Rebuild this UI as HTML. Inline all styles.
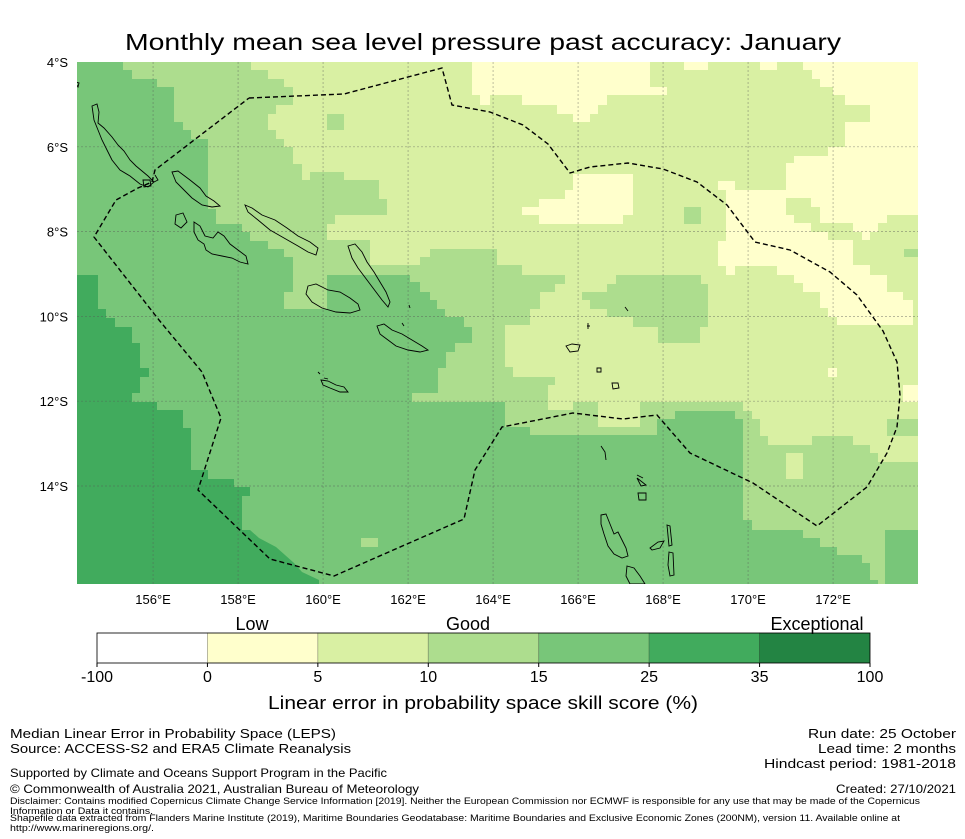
<!DOCTYPE html>
<html><head><meta charset="utf-8">
<style>
html,body{margin:0;padding:0;background:#fff;overflow:hidden;}
svg{display:block;font-family:"Liberation Sans","DejaVu Sans",sans-serif;}
</style></head>
<body>
<svg id="fig" width="965" height="839" viewBox="0 0 965 839" xmlns="http://www.w3.org/2000/svg">
<text x="483" y="50" font-size="23" text-anchor="middle" textLength="716" lengthAdjust="spacingAndGlyphs">Monthly mean sea level pressure past accuracy: January</text>

<defs><clipPath id="mapclip"><rect x="77" y="62" width="841" height="522"/></clipPath></defs>
<g clip-path="url(#mapclip)">
  <rect x="77" y="62" width="841" height="522" fill="#78c679"/>
  <polygon fill="#41ab5d" points="77,275 98,275 98,309 106,309 106,318 115,318 115,327 132,327 132,343 140,343 140,368 149,368 149,377 140,377 140,393 132,393 132,402 149,402 157,402 157,410 183,410 183,428 191,428 191,436 191,470 208,470 208,479 234,479 234,487 250,487 250,496 242,496 242,530 250,530 259,538 276,547 285,555 294,563 302,572 319,580 319,584 77,584"/>
  <polygon fill="#addd8e" points="123,62 918,62 918,530 885,530 885,584 878,584 878,580 870,580 870,563 862,563 862,555 837,555 837,547 820,547 820,538 803,538 803,530 752,530 752,520 743,520 743,419 735,419 735,411 675,411 675,419 657,419 657,435 530,435 530,427 505,427 505,402 412,402 412,393 438,393 438,368 446,368 446,352 455,352 455,343 472,343 472,327 464,327 464,317 445,317 445,309 437,309 437,300 430,300 430,292 420,292 420,282 410,282 410,275 327,275 327,309 284,309 284,292 293,292 293,257 284,257 284,249 268,249 268,241 250,241 250,232 242,232 242,224 216,224 216,209 208,209 208,139 191,139 191,130 183,130 183,122 174,122 174,87 157,87 157,79 132,79 132,70 123,70"/>
  <polygon fill="#d9f0a3" points="251,62 918,62 918,462 878,462 878,453 870,453 870,445 853,445 853,436 812,436 812,445 768,445 768,436 760,436 760,419 752,419 752,411 743,411 743,402 548,402 548,385 555,385 555,377 513,377 513,367 505,367 505,325 513,325 530,325 530,309 540,309 540,292 555,292 555,284 565,284 565,275 522,275 522,265 497,265 497,249 430,249 430,257 420,257 420,265 370,265 370,240 327,240 327,224 335,224 335,215 387,215 387,199 379,199 379,180 344,180 344,172 310,172 310,180 302,180 302,164 293,164 293,147 284,147 284,139 276,139 276,130 268,130 268,114 276,114 276,105 293,105 293,87 284,87 284,79 268,79 268,70 251,70"/>
  <polygon fill="#addd8e" points="616,275 701,275 701,284 708,284 708,327 700,327 700,343 658,343 658,327 633,327 633,317 607,317 607,309 590,309 590,300 582,300 582,292 607,292 607,284 616,284"/>
  <rect x="684" y="207" width="17" height="17" fill="#addd8e"/>
  <rect x="327" y="114" width="17" height="16" fill="#addd8e"/>
  <rect x="887" y="419" width="31" height="17" fill="#addd8e"/>
  <rect x="904" y="249" width="14" height="8" fill="#addd8e"/>
  <rect x="598" y="402" width="42" height="25" fill="#d9f0a3"/>
  <rect x="548" y="402" width="25" height="8" fill="#d9f0a3"/>
  <rect x="786" y="453" width="17" height="26" fill="#d9f0a3"/>
  <rect x="361" y="538" width="17" height="9" fill="#addd8e"/>
  <polygon fill="#ffffcc" points="472,62 650,62 650,87 667,87 667,95 607,95 607,105 598,105 598,114 590,114 590,122 573,122 573,114 557,114 557,105 522,105 522,95 490,95 490,105 480,105 480,95 472,95"/>
  <rect x="684" y="62" width="24" height="8" fill="#ffffcc"/>
  <rect x="760" y="62" width="17" height="8" fill="#ffffcc"/>
  <polygon fill="#ffffcc" points="539,199 565,199 565,190 573,190 573,174 633,174 633,215 623,215 623,224 539,224 539,215 522,215 522,207 539,207"/>
  <polygon fill="#ffffcc" points="803,62 918,62 918,215 887,215 887,223 878,223 878,232 870,232 870,240 862,240 862,232 853,232 853,265 870,265 870,275 887,275 887,292 903,292 903,300 913,300 913,325 837,325 837,317 828,317 828,308 820,308 820,292 803,292 803,283 794,283 794,275 777,275 777,266 735,266 735,275 726,275 726,266 718,266 718,241 726,241 726,190 718,190 718,181 735,181 735,190 786,190 786,163 794,163 794,156 828,156 828,147 845,147 845,122 870,122 870,105 845,105 845,95 833,95 833,87 820,87 820,79 812,79 812,70 803,70"/>
  <polygon fill="#d9f0a3" points="786,198 811,198 811,207 820,207 820,223 853,223 853,240 828,240 828,232 811,232 811,223 794,223 794,215 786,215"/>
  <rect x="828" y="368" width="9" height="9" fill="#ffffcc"/>
  <rect x="903" y="385" width="15" height="17" fill="#ffffcc"/>

  <g id="grid" stroke="#555" stroke-opacity="0.55" stroke-width="0.7" stroke-dasharray="2,2"></g>

  <g fill="none" stroke="#000" stroke-width="0.9">
    <path d="M92,106 L97,104 L99,112 L98,123 L104,128 L112,137 L118,145 L124,151 L130,160 L136,166 L148,176 L154,182 L148,187 L140,184 L130,176 L120,170 L112,160 L107,150 L102,140 L98,130 L94,120 Z"/>
    <path d="M172,172 L178,171 L190,180 L200,188 L206,196 L214,201 L220,206 L212,207 L202,205 L192,198 L184,190 L176,182 Z"/>
    <path d="M245,205 L252,208 L262,215 L275,220 L287,228 L298,236 L310,242 L318,248 L316,255 L308,252 L298,246 L284,238 L270,230 L258,220 L248,212 Z"/>
    <path d="M194,222 L200,226 L205,236 L213,238 L218,232 L224,236 L230,244 L238,250 L246,256 L248,264 L240,262 L232,258 L222,256 L212,254 L206,250 L204,244 L198,240 L194,232 Z"/>
    <path d="M176,215 L183,213 L187,222 L181,228 L175,224 Z"/>
    <path d="M348,246 L355,244 L362,252 L367,262 L374,272 L380,282 L386,292 L390,302 L388,307 L382,300 L376,292 L370,284 L364,276 L358,268 L352,258 Z"/>
    <path d="M308,286 L316,284 L328,290 L340,292 L350,298 L358,304 L360,310 L350,313 L336,312 L322,308 L312,302 L306,294 Z"/>
    <path d="M377,326 L384,324 L392,330 L402,334 L412,340 L422,346 L428,350 L420,352 L408,350 L396,346 L388,340 L380,334 Z"/>
    <path d="M321,380 L328,381 L336,385 L344,387 L348,392 L340,392 L330,388 L323,385 Z"/>
    <path d="M601,515 L606,514 L610,524 L614,534 L618,532 L622,540 L626,548 L628,556 L622,558 L614,554 L608,546 L604,534 L601,524 Z"/>
    <path d="M627,566 L634,568 L640,576 L645,584 L630,584 L626,576 Z"/>
    <path d="M667,525 L670,526 L672,545 L669,546 Z M669,552 L673,553 L674,575 L670,576 L668,565 Z"/>
    <path d="M650,548 L658,542 L664,541 L660,548 L652,550 Z"/>
    <path d="M566,346 L572,344 L580,345 L578,351 L570,352 Z"/>
    <path d="M601,446 L605,452 L606,460 M637,475 L643,478 M637,478 L641,486 L646,485 Z M638,493 L646,493 L646,500 L639,500 Z"/>
    <path d="M75,82 L79,83 L78,87 Z M597,368 L601,368 L601,372 L597,372 Z M612,383 L618,383 L619,388 L613,389 Z M587,326 L590,326 M588,323 L588,329 M625,307 L628,311 M324,378 L328,379 M409,305 L410,308 M402,323 L404,326 M318,372 L320,374"/>
    <path d="M143,180 L150,180 L151,186 L144,187 Z M155,175 L158,180 L154,182"/>
  </g>

  <g fill="none" stroke="#000" stroke-width="1.4" stroke-dasharray="5,3">
    <path d="M249,98 L344,94 L442,68 L452,105 L490,112 L523,125 L548,144 L570,173 L590,167 L628,163 L663,169 L697,182 L727,205 L755,242 L790,250 L830,272 L857,295 L883,331 L897,362 L900,395 L897,427 L887,453 L867,487 L817,526 L753,483 L690,453 L657,415 L623,419 L573,413 L502,427 L475,470 L464,519 L334,576 L270,559 L198,490 L221,418 L202,372 L159,320 L94,237 L116,200 L138,188 L152,182 L155,170 L249,98"/>
  </g>
</g>

<g id="ylabels" font-size="13" text-anchor="end"></g>
<g id="xlabels" font-size="13" text-anchor="middle"></g>

<g id="colorbar"></g>
<text x="252" y="630" font-size="18" text-anchor="middle">Low</text>
<text x="468" y="630" font-size="18" text-anchor="middle">Good</text>
<text x="817" y="630" font-size="18" text-anchor="middle">Exceptional</text>
<text x="483" y="709" font-size="18" text-anchor="middle" textLength="430" lengthAdjust="spacingAndGlyphs">Linear error in probability space skill score (%)</text>

<g font-size="13">
  <text x="10" y="738" textLength="326" lengthAdjust="spacingAndGlyphs">Median Linear Error in Probability Space (LEPS)</text>
  <text x="10" y="753" textLength="341" lengthAdjust="spacingAndGlyphs">Source: ACCESS-S2 and ERA5 Climate Reanalysis</text>
  <text x="808" y="738" textLength="148" lengthAdjust="spacingAndGlyphs">Run date: 25 October</text>
  <text x="818" y="753" textLength="138" lengthAdjust="spacingAndGlyphs">Lead time: 2 months</text>
  <text x="764" y="768" textLength="192" lengthAdjust="spacingAndGlyphs">Hindcast period: 1981-2018</text>
  <text x="10" y="777" font-size="12" textLength="377" lengthAdjust="spacingAndGlyphs">Supported by Climate and Oceans Support Program in the Pacific</text>
  <text x="10" y="793" font-size="12" textLength="409" lengthAdjust="spacingAndGlyphs">© Commonwealth of Australia 2021, Australian Bureau of Meteorology</text>
  <text x="836" y="793" font-size="12" textLength="120" lengthAdjust="spacingAndGlyphs">Created: 27/10/2021</text>
  <text x="10" y="804" font-size="9" textLength="910" lengthAdjust="spacingAndGlyphs">Disclaimer: Contains modified Copernicus Climate Change Service Information [2019]. Neither the European Commission nor ECMWF is responsible for any use that may be made of the Copernicus</text>
  <text x="10" y="814" font-size="9" textLength="143" lengthAdjust="spacingAndGlyphs">Information or Data it contains.</text>
  <text x="10" y="821" font-size="9" textLength="890" lengthAdjust="spacingAndGlyphs">Shapefile data extracted from Flanders Marine Institute (2019), Maritime Boundaries Geodatabase: Maritime Boundaries and Exclusive Economic Zones (200NM), version 11. Available online at</text>
  <text x="10" y="831" font-size="9" textLength="144" lengthAdjust="spacingAndGlyphs">http://www.marineregions.org/.</text>
</g>
</svg>

<script>
const lonTicks = [156, 158, 160, 162, 164, 166, 168, 170, 172];
const latTicks = [4, 6, 8, 10, 12, 14];
const cbBounds = [-100, 0, 5, 10, 15, 25, 35, 100];
const cbLabels = ["-100", "0", "5", "10", "15", "25", "35", "100"];
const cbColors = ["#ffffff", "#ffffcc", "#d9f0a3", "#addd8e", "#78c679", "#41ab5d", "#238443"];

const NS = "http://www.w3.org/2000/svg";
const lonMin = 154.21, pxPerLon = 42.5, mapX0 = 77;
const latMin = 4, pxPerLat = 42.4, mapY0 = 62;
function xOf(lon){ return mapX0 + (lon - lonMin) * pxPerLon; }
function yOf(latS){ return mapY0 + (latS - latMin) * pxPerLat; }

const grid = document.getElementById('grid');
const xl = document.getElementById('xlabels');
const yl = document.getElementById('ylabels');
lonTicks.forEach(function(lon){
  const x = xOf(lon);
  const l = document.createElementNS(NS, 'line');
  l.setAttribute('x1', x); l.setAttribute('x2', x);
  l.setAttribute('y1', 62); l.setAttribute('y2', 584);
  
  
  grid.appendChild(l);
  const t = document.createElementNS(NS, 'text');
  t.setAttribute('x', x); t.setAttribute('y', 604);
  t.textContent = lon + '°E';
  
  
  xl.appendChild(t);
});
latTicks.forEach(function(lat){
  const y = yOf(lat);
  if (lat !== 4) {
    const l = document.createElementNS(NS, 'line');
    l.setAttribute('x1', 77); l.setAttribute('x2', 918);
    l.setAttribute('y1', y); l.setAttribute('y2', y);
    
    
    grid.appendChild(l);
  }
  const t = document.createElementNS(NS, 'text');
  t.setAttribute('x', 68); t.setAttribute('y', y + 5);
  t.textContent = lat + '°S';
  
  
  yl.appendChild(t);
});

const cb = document.getElementById('colorbar');
const cbX0 = 97, cbX1 = 870, cbY = 633, cbH = 30;
const segW = (cbX1 - cbX0) / (cbBounds.length - 1);
function cbX(i){ return cbX0 + i * segW; }
cbColors.forEach(function(c, i){
  const r = document.createElementNS(NS, 'rect');
  r.setAttribute('x', cbX(i)); r.setAttribute('y', cbY);
  r.setAttribute('width', segW); r.setAttribute('height', cbH);
  r.setAttribute('fill', c);
  r.setAttribute('stroke', 'rgba(0,0,0,0.25)');
  r.setAttribute('stroke-width', '0.8');
  
  
  cb.appendChild(r);
});
const frame = document.createElementNS(NS, 'rect');
frame.setAttribute('x', cbX0); frame.setAttribute('y', cbY);
frame.setAttribute('width', cbX1 - cbX0); frame.setAttribute('height', cbH);
frame.setAttribute('fill', 'none'); frame.setAttribute('stroke', '#000'); frame.setAttribute('stroke-width', '0.8');


cb.appendChild(frame);
cbLabels.forEach(function(lab, i){
  const tk = document.createElementNS(NS, 'line');
  tk.setAttribute('x1', cbX(i)); tk.setAttribute('x2', cbX(i));
  tk.setAttribute('y1', cbY + cbH); tk.setAttribute('y2', cbY + cbH + 4);
  tk.setAttribute('stroke', '#000');
  
  
  cb.appendChild(tk);
  const t = document.createElementNS(NS, 'text');
  t.setAttribute('x', cbX(i)); t.setAttribute('y', 682);
  t.setAttribute('font-size', '16'); t.setAttribute('text-anchor', 'middle');
  t.textContent = lab;
  
  
  cb.appendChild(t);
});
</script>
</body></html>
